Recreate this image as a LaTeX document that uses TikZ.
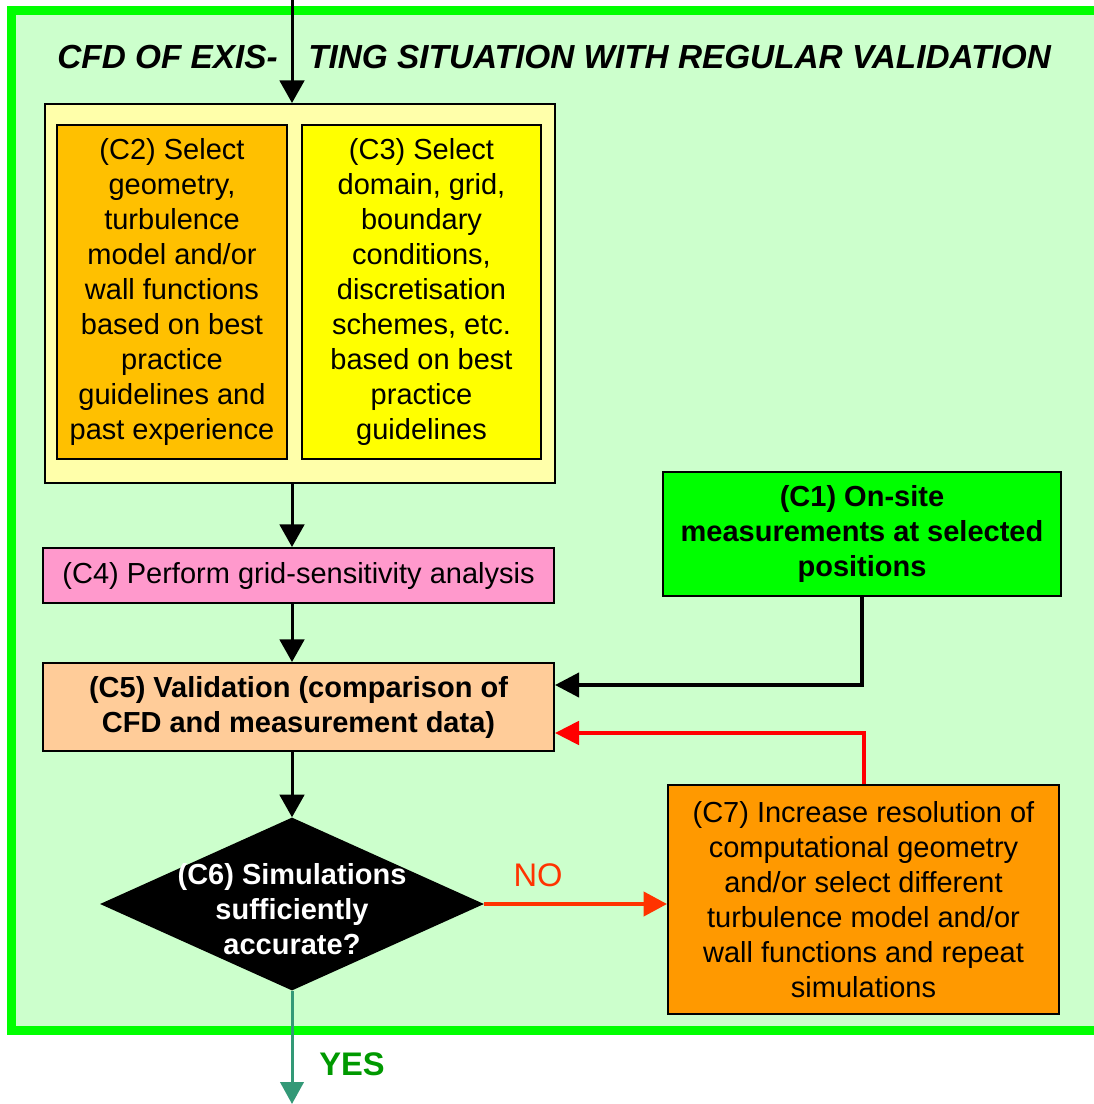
\documentclass[tikz,border=0pt]{standalone}
\usepackage{fontspec}
\setmainfont{Liberation Sans}
\usetikzlibrary{arrows.meta,shapes.geometric}

\definecolor{framegreen}{HTML}{00FF00}
\definecolor{paleground}{HTML}{CCFFCC}
\definecolor{paleyellow}{HTML}{FFFFAA}
\definecolor{goldbox}{HTML}{FFC000}
\definecolor{yellowbox}{HTML}{FFFF00}
\definecolor{pinkbox}{HTML}{FF99CC}
\definecolor{peachbox}{HTML}{FFCC99}
\definecolor{orangebox}{HTML}{FF9900}
\definecolor{noline}{HTML}{FF3300}
\definecolor{yesline}{HTML}{339977}
\definecolor{yestext}{HTML}{009900}

\begin{document}
\begin{tikzpicture}[x=0.75pt,y=0.75pt,yscale=-1,xscale=1,
  box/.style={draw=black,line width=1.5pt,align=center,inner sep=0pt,
    font=\fontsize{21.75}{26.25}\selectfont},
  arr/.style={line width=2.25pt,-{Triangle[length=17pt,width=18.5pt]}},
  title/.style={inner sep=0pt,font=\fontsize{25}{29}\selectfont\bfseries\itshape}]
\path[use as bounding box,clip] (0,0) rectangle (1094,1104);

%Shape: Frame
\draw[draw=framegreen,fill=paleground,line width=6.75pt] (11,10) rectangle (1110,1030);

% Text Node
\node[title,anchor=east] (head1) at (278,57) {CFD OF EXIS-};
% Text Node
\node[title,anchor=west] (head2) at (308,57) {TING SITUATION WITH REGULAR VALIDATION};

%Shape: Rectangle
\node[box,fill=paleyellow,minimum width=382.5pt,minimum height=284.25pt] (group) at (300,293.5) {};
%Shape: Rectangle
\node[box,fill=goldbox,minimum width=172.5pt,minimum height=250.5pt] (c2) at (172,292)
  {(C2) Select\\geometry,\\turbulence\\model and/or\\wall functions\\based on best\\practice\\guidelines and\\past experience};
%Shape: Rectangle
\node[box,fill=yellowbox,minimum width=179.25pt,minimum height=250.5pt] (c3) at (421.5,292)
  {(C3) Select\\domain, grid,\\boundary\\conditions,\\discretisation\\schemes, etc.\\based on best\\practice\\guidelines};
%Shape: Rectangle
\node[box,fill=pinkbox,minimum width=383.25pt,minimum height=41.25pt] (c4) at (298.5,575.5)
  {(C4) Perform grid-sensitivity analysis};
%Shape: Rectangle
\node[box,fill=framegreen,font=\fontsize{21.75}{26.25}\selectfont\bfseries,minimum width=298.5pt,minimum height=93pt] (c1) at (862,534)
  {(C1) On-site\\measurements at selected\\positions};
%Shape: Rectangle
\node[box,fill=peachbox,font=\fontsize{21.75}{26.25}\selectfont\bfseries,minimum width=383.25pt,minimum height=66pt] (c5) at (298.5,707)
  {(C5) Validation (comparison of\\CFD and measurement data)};
%Shape: Diamond
\node[diamond,fill=black,inner sep=0pt,minimum width=288pt,minimum height=129.75pt] (c6) at (292,904) {};
% Text Node
\node[text=white,inner sep=0pt,align=center,font=\fontsize{21.75}{26.25}\selectfont\bfseries] (c6text) at (292,909)
  {(C6) Simulations\\sufficiently\\accurate?};
%Shape: Rectangle
\node[box,fill=orangebox,minimum width=293.25pt,minimum height=171.75pt] (c7) at (863.5,899.5)
  {(C7) Increase resolution of\\computational geometry\\and/or select different\\turbulence model and/or\\wall functions and repeat\\simulations};

\coordinate (top) at (292,0);
\coordinate (bottom) at (292,1104);

%Straight Lines
\draw[arr] (top) -- (top |- group.north);
\draw[arr] (group.south -| top) -- (c4.north -| top);
\draw[arr] (c4.south -| top) -- (c5.north -| top);
\draw[arr] (c5.south -| top) -- (c6.north);
\draw[line width=3pt,-{Triangle[length=18pt,width=18pt]}] (c1.south) |- ([yshift=-16.5pt]c5.east);
\draw[red,line width=3pt,-{Triangle[length=18pt,width=17.5pt]}] (c7.north) |- ([yshift=19.5pt]c5.east);
\draw[noline,line width=3pt,-{Triangle[length=17.5pt,width=18pt]}] (c6.east) -- (c6.east -| c7.west);
\draw[yesline,line width=2.25pt,-{Triangle[length=16.5pt,width=17.5pt]}] (c6.south) -- (bottom);

% Text Node
\node[text=noline,inner sep=0pt,font=\fontsize{24.5}{29}\selectfont] (no) at (538,875) {NO};
% Text Node
\node[text=yestext,inner sep=0pt,font=\fontsize{24.5}{29}\selectfont\bfseries] (yes) at (352,1064) {YES};
\end{tikzpicture}
\end{document}
